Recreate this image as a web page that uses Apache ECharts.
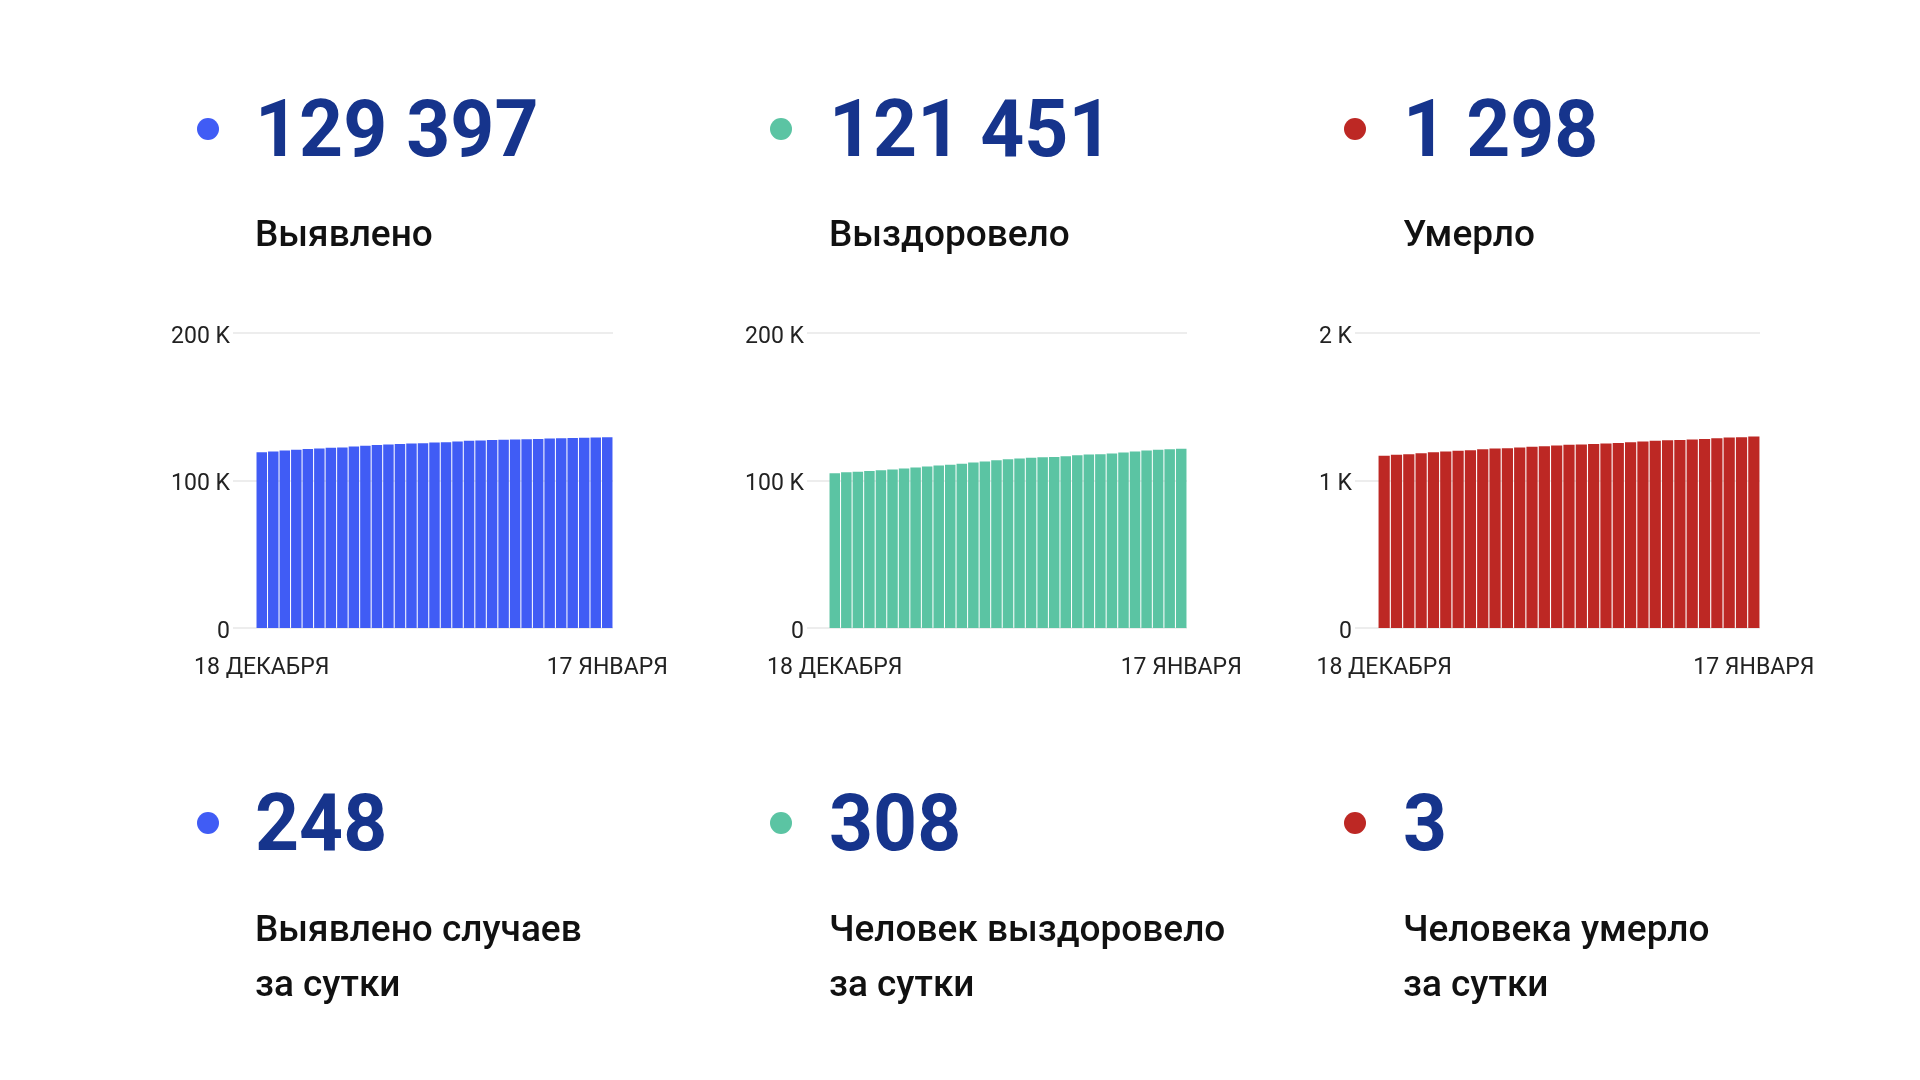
<!DOCTYPE html>
<html>
<head>
<meta charset="utf-8">
<script src="https://cdn.jsdelivr.net/npm/echarts@6/dist/echarts.min.js"></script>
<style>
html,body{margin:0;padding:0;background:#fff;}
#c{width:1920px;height:1080px;}
</style>
</head>
<body>
<div id="c"></div>
<script>
// ---- data ----
const dates = ['18 ДЕКАБРЯ','19 ДЕКАБРЯ','20 ДЕКАБРЯ','21 ДЕКАБРЯ','22 ДЕКАБРЯ','23 ДЕКАБРЯ','24 ДЕКАБРЯ',
  '25 ДЕКАБРЯ','26 ДЕКАБРЯ','27 ДЕКАБРЯ','28 ДЕКАБРЯ','29 ДЕКАБРЯ','30 ДЕКАБРЯ','31 ДЕКАБРЯ',
  '1 ЯНВАРЯ','2 ЯНВАРЯ','3 ЯНВАРЯ','4 ЯНВАРЯ','5 ЯНВАРЯ','6 ЯНВАРЯ','7 ЯНВАРЯ','8 ЯНВАРЯ','9 ЯНВАРЯ',
  '10 ЯНВАРЯ','11 ЯНВАРЯ','12 ЯНВАРЯ','13 ЯНВАРЯ','14 ЯНВАРЯ','15 ЯНВАРЯ','16 ЯНВАРЯ','17 ЯНВАРЯ'];

const detected = [119200,119700,120400,120800,121300,121700,122200,122400,123100,123500,124000,124400,
  124700,125100,125300,125800,126000,126500,126900,127100,127400,127600,127800,128000,128200,128400,
  128600,128800,128900,129100,129397];

const recovered = [104950,105600,105900,106500,107000,107400,108100,108800,109500,110200,110600,111300,
  112200,112900,113800,114400,114900,115400,115800,116000,116500,117200,117600,117800,118300,119000,
  119600,120300,120800,121200,121451];

const deaths = [1167,1174,1178,1185,1192,1196,1201,1205,1212,1217,1219,1223,1228,1232,1237,1242,1244,
  1248,1251,1255,1260,1264,1269,1273,1275,1278,1282,1287,1291,1293,1298];

const yTicksCases = ['0','100 K','200 K'];
const yTicksDeaths = ['0','1 K','2 K'];

const totals = ['129 397','121 451','1 298'];
const totalLabels = ['Выявлено','Выздоровело','Умерло'];
const daily = ['248','308','3'];
const dailyLabels = [['Выявлено случаев','за сутки'],['Человек выздоровело','за сутки'],['Человека умерло','за сутки']];

// ---- style ----
const colors = ['#405cf5','#5bc4a3','#bd2824'];
const numColor = '#16348c';
const FONT = 'Roboto, "Noto Sans", sans-serif';

const charts = [
  {data: detected, max: 200000, interval: 100000, ticks: yTicksCases, labelLeft: 233, barLeft: 256, right: 613},
  {data: recovered, max: 200000, interval: 100000, ticks: yTicksCases, labelLeft: 807, barLeft: 829, right: 1187},
  {data: deaths, max: 2000, interval: 1000, ticks: yTicksDeaths, labelLeft: 1355, barLeft: 1378, right: 1760}
];

const gTop = 333, gBottom = 1080 - 628;
const grid = [], xAxis = [], yAxis = [], series = [];

charts.forEach((c, i) => {
  grid.push({left: c.labelLeft, right: 1920 - c.right, top: gTop, bottom: gBottom});
  xAxis.push({type: 'value', gridIndex: grid.length - 1, show: false, min: 0, max: 1});
  yAxis.push({
    type: 'value', gridIndex: grid.length - 1, min: 0, max: c.max, interval: c.interval,
    axisLine: {show: false}, axisTick: {show: false},
    splitLine: {show: true, lineStyle: {color: '#ededed', width: 2}},
    axisLabel: {
      margin: 3, fontFamily: FONT, fontSize: 23, color: '#222',
      verticalAlign: 'top', lineHeight: 8,
      formatter: (v) => c.ticks[Math.round(v / c.interval)]
    }
  });
  grid.push({left: c.barLeft, right: 1920 - c.right, top: gTop, bottom: gBottom});
  const gi = grid.length - 1;
  xAxis.push({
    type: 'category', gridIndex: gi, data: dates, boundaryGap: true,
    axisLine: {show: false}, axisTick: {show: false},
    axisLabel: {
      interval: (idx) => idx === 0 || idx === dates.length - 1,
      margin: 29, fontFamily: FONT, fontSize: 23, color: '#222', hideOverlap: false
    }
  });
  yAxis.push({type: 'value', gridIndex: gi, min: 0, max: c.max, interval: c.interval, show: false, splitLine: {show: false}});
  series.push({
    type: 'bar', xAxisIndex: xAxis.length - 1, yAxisIndex: yAxis.length - 1,
    data: c.data, barCategoryGap: '9%',
    itemStyle: {color: colors[i]}, silent: true, animation: false
  });
});

const colX = [255, 829, 1403];
const dotX = [208, 781, 1355];
const graphic = [];
for (let i = 0; i < 3; i++) {
  graphic.push({type: 'circle', shape: {cx: dotX[i], cy: 129, r: 11}, style: {fill: colors[i]}});
  graphic.push({type: 'text', x: colX[i], y: 136, scaleX: 0.96, style: {text: totals[i], font: 'bold 80px ' + FONT, fill: numColor, verticalAlign: 'middle'}});
  graphic.push({type: 'text', x: colX[i], y: 237, style: {text: totalLabels[i], font: '500 37px ' + FONT, fill: '#111', verticalAlign: 'middle'}});

  graphic.push({type: 'circle', shape: {cx: dotX[i], cy: 823, r: 11}, style: {fill: colors[i]}});
  graphic.push({type: 'text', x: colX[i], y: 830, scaleX: 0.96, style: {text: daily[i], font: 'bold 80px ' + FONT, fill: numColor, verticalAlign: 'middle'}});
  graphic.push({type: 'text', x: colX[i], y: 932, style: {text: dailyLabels[i][0], font: '500 37px ' + FONT, fill: '#111', verticalAlign: 'middle'}});
  graphic.push({type: 'text', x: colX[i], y: 987, style: {text: dailyLabels[i][1], font: '500 37px ' + FONT, fill: '#111', verticalAlign: 'middle'}});
}

const chart = echarts.init(document.getElementById('c'), null, {renderer: 'canvas'});
chart.setOption({
  backgroundColor: '#fff',
  animation: false,
  grid, xAxis, yAxis, series, graphic
});
</script>
</body>
</html>
